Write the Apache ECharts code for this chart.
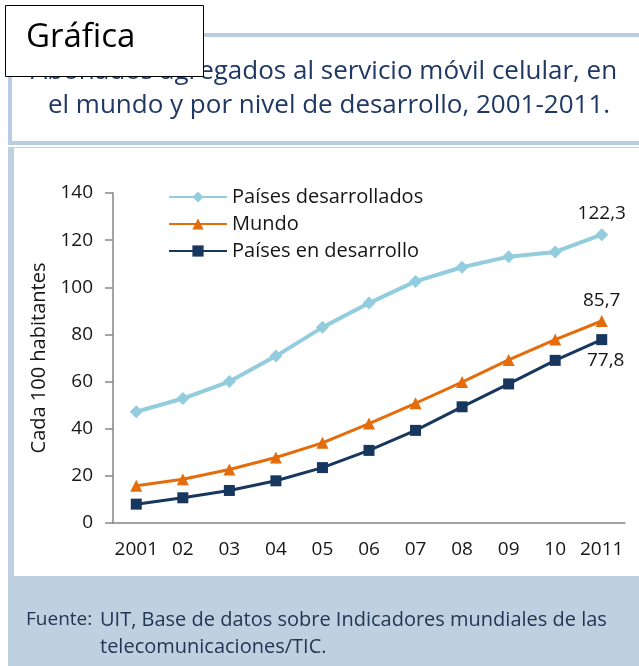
<!DOCTYPE html>
<html>
<head>
<meta charset="utf-8">
<script src="https://cdn.jsdelivr.net/npm/echarts@6/dist/echarts.min.js"></script>
<style>
  html, body { margin: 0; padding: 0; background: #fff; }
  #chart { width: 639px; height: 666px; }
</style>
</head>
<body>
<div id="chart"></div>
<script>
// datos
const years = ['2001', '02', '03', '04', '05', '06', '07', '08', '09', '10', '2011'];
const desarrollados = [47.2, 52.8, 60.0, 70.8, 83.0, 93.3, 102.5, 108.5, 113.0, 115.0, 122.3];
const mundo = [15.8, 18.6, 22.7, 27.8, 34.0, 42.2, 50.8, 59.8, 69.2, 77.8, 85.7];
const enDesarrollo = [8.0, 10.7, 13.8, 17.9, 23.5, 30.8, 39.3, 49.3, 59.0, 69.0, 77.8];
const yTicks = { min: 0, max: 140, interval: 20 };

const FONT = 'Open Sans';
const TXT = '#161616';

// solo el último punto lleva etiqueta
function withLastLabel(arr, pos, offset) {
  return arr.map(function (v, i) {
    if (i !== arr.length - 1) return v;
    return {
      value: v,
      label: {
        show: true, position: pos, offset: offset,
        formatter: String(v).replace('.', ','),
        color: TXT, fontSize: 19, fontFamily: FONT
      }
    };
  });
}

let myChart = echarts.init(document.getElementById('chart'));
myChart.setOption({
  backgroundColor: '#fff',
  animation: false,
  textStyle: { fontFamily: FONT },
  graphic: [
    // recuadro del título
    { type: 'rect', z: 0, shape: { x: 10, y: 35, width: 640, height: 108 },
      style: { fill: '#fff', stroke: '#b9cde3', lineWidth: 4 } },
    { type: 'text', z: 1, x: 324, y: 72,
      style: { text: 'Abonados agregados al servicio móvil celular, en', fill: '#1f3864',
               font: '26px "Open Sans"', textAlign: 'center', textVerticalAlign: 'middle' } },
    { type: 'text', z: 1, x: 329, y: 106,
      style: { text: 'el mundo y por nivel de desarrollo, 2001-2011.', fill: '#1f3864',
               font: '26px "Open Sans"', textAlign: 'center', textVerticalAlign: 'middle' } },
    // caja "Gráfica"
    { type: 'rect', z: 20, shape: { x: 5.5, y: 5.5, width: 198, height: 71 },
      style: { fill: '#fff', stroke: '#000', lineWidth: 1 } },
    { type: 'text', z: 21, x: 26, y: 38,
      style: { text: 'Gráfica', fill: '#000', font: '33px "Open Sans"', textVerticalAlign: 'middle' } },
    // fondo del área del gráfico y pie
    { type: 'rect', z: 0, shape: { x: 8, y: 147, width: 631, height: 519 },
      style: { fill: '#bfd0e0' } },
    { type: 'rect', z: 0, shape: { x: 14, y: 148, width: 625, height: 428 },
      style: { fill: '#fff' } },
    { type: 'text', z: 1, x: 26, y: 620,
      style: { text: 'Fuente:', fill: '#203755', font: '19px "Open Sans"', textVerticalAlign: 'middle' } },
    { type: 'text', z: 1, x: 100, y: 620,
      style: { text: 'UIT, Base de datos sobre Indicadores mundiales de las', fill: '#203755',
               font: '20px "Open Sans"', textVerticalAlign: 'middle' } },
    { type: 'text', z: 1, x: 100, y: 647,
      style: { text: 'telecomunicaciones/TIC.', fill: '#203755',
               font: '20px "Open Sans"', textVerticalAlign: 'middle' } }
  ],
  legend: {
    orient: 'vertical',
    left: 163, top: 182,
    itemWidth: 58, itemHeight: 14, itemGap: 7,
    textStyle: { color: TXT, fontSize: 20, lineHeight: 20, fontFamily: FONT },
    data: ['Países desarrollados', 'Mundo', 'Países en desarrollo']
  },
  grid: { left: 113, right: 14, top: 193, bottom: 143 },
  xAxis: {
    type: 'category',
    data: years,
    boundaryGap: true,
    axisLine: { lineStyle: { color: '#868686', width: 1.5 } },
    axisTick: { length: 6, lineStyle: { color: '#868686', width: 1.5 } },
    axisLabel: { color: TXT, fontSize: 19, margin: 17, interval: 0 }
  },
  yAxis: {
    type: 'value',
    min: yTicks.min, max: yTicks.max, interval: yTicks.interval,
    name: 'Cada 100 habitantes',
    nameLocation: 'middle', nameGap: 58,
    nameTextStyle: { color: TXT, fontSize: 20 },
    axisLine: { show: true, lineStyle: { color: '#868686', width: 1.5 } },
    axisTick: { show: true, length: 8, lineStyle: { color: '#868686', width: 1.5 } },
    axisLabel: { color: TXT, fontSize: 19, margin: 20 },
    splitLine: { show: false }
  },
  series: [
    {
      name: 'Países desarrollados', type: 'line',
      data: withLastLabel(desarrollados, 'top', [0, 0]),
      symbol: 'diamond', symbolSize: 13,
      color: '#93cddd',
      lineStyle: { width: 4 },
      itemStyle: { color: '#93cddd' }
    },
    {
      name: 'Mundo', type: 'line',
      data: withLastLabel(mundo, 'top', [0, 0]),
      symbol: 'triangle', symbolSize: 12,
      color: '#e46c0a',
      lineStyle: { width: 3 },
      itemStyle: { color: '#e46c0a' }
    },
    {
      name: 'Países en desarrollo', type: 'line',
      data: withLastLabel(enDesarrollo, 'bottom', [4, 1]),
      symbol: 'rect', symbolSize: 11,
      color: '#17375e',
      lineStyle: { width: 3 },
      itemStyle: { color: '#17375e' }
    }
  ]
});
</script>
</body>
</html>
